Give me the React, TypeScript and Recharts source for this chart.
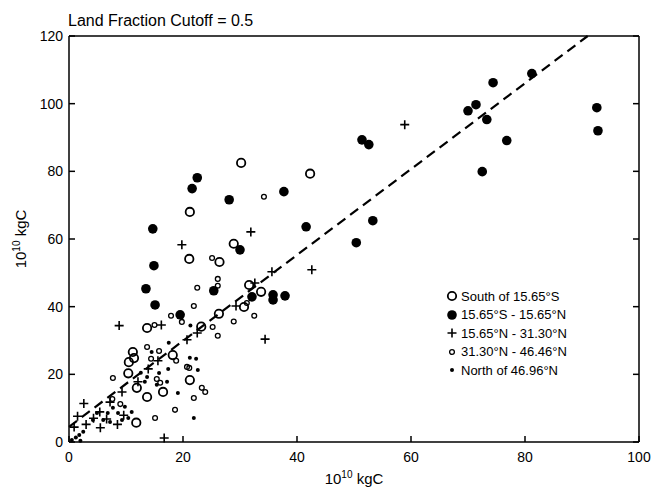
import { ScatterChart, Scatter, XAxis, YAxis, ReferenceLine, Legend } from 'recharts';

// [x, y] pairs, both in 10^10 kgC
const southOf1565S = [
  [30.2, 82.5], [42.3, 79.3], [21.2, 68.0], [28.9, 58.6], [21.1, 54.1], [26.4, 53.2],
  [31.6, 46.4], [33.7, 44.4], [30.7, 39.9], [26.3, 37.9], [13.7, 33.7], [23.2, 34.1],
  [18.2, 25.7], [21.2, 18.3], [11.2, 26.6], [11.4, 24.8], [10.5, 23.6], [10.4, 20.3],
  [11.9, 16.0], [13.7, 13.3], [16.5, 14.8], [11.8, 5.7],
];

const s1565To1565N = [
  [81.2, 108.9], [74.4, 106.2], [71.4, 99.7], [70.0, 97.9], [73.3, 95.3], [76.8, 89.1],
  [72.5, 79.9], [92.6, 98.8], [92.8, 92.0], [51.4, 89.3], [52.6, 87.9], [53.3, 65.4],
  [50.4, 58.9], [41.6, 63.6], [37.7, 74.0], [28.1, 71.6], [22.5, 78.1], [21.6, 74.9],
  [14.7, 63.0], [14.9, 52.1], [30.0, 56.8], [13.5, 45.3], [15.1, 40.5], [25.4, 44.7],
  [32.1, 42.9], [35.8, 43.5], [35.8, 42.0], [37.9, 43.2], [19.5, 37.6],
];

const n1565To3130 = [
  [58.9, 93.8], [31.9, 62.1], [19.8, 58.3], [35.6, 50.3], [42.6, 50.9], [34.4, 30.4],
  [8.8, 34.4], [16.2, 34.6], [29.3, 40.2], [32.6, 47.0], [20.7, 30.2], [22.5, 32.2],
  [15.6, 24.0], [13.9, 21.6], [9.3, 14.8], [2.6, 11.4], [16.7, 1.2], [1.5, 7.6],
  [3.0, 5.2], [4.3, 7.0], [5.5, 4.2], [6.6, 6.8], [8.5, 5.2], [9.6, 7.9], [0.9, 4.4],
  [5.4, 8.9], [7.2, 11.8], [12.1, 17.8],
];

const n3130To4646 = [
  [34.2, 72.5], [25.1, 54.4], [26.1, 48.2], [26.1, 46.2], [22.5, 45.6], [21.9, 40.2],
  [17.9, 37.3], [19.8, 35.5], [15.0, 34.6], [28.9, 35.6], [32.5, 37.3], [25.2, 34.0],
  [26.1, 31.4], [31.2, 41.1], [13.7, 28.1], [15.8, 26.9], [14.4, 24.6], [18.8, 24.0],
  [21.1, 21.9], [15.4, 18.6], [16.0, 17.5], [7.7, 18.9], [18.6, 9.5], [15.1, 7.1],
  [21.9, 13.0], [23.3, 16.0], [23.9, 14.8], [20.7, 22.2], [7.6, 12.7], [9.0, 11.2],
];

const northOf4696 = [
  [21.3, 34.4], [17.5, 29.3], [19.1, 14.5], [21.9, 7.1], [17.4, 21.6], [22.6, 21.3],
  [22.3, 24.6], [14.5, 26.6], [15.8, 20.4], [17.2, 17.8], [15.4, 16.9], [13.7, 19.2],
  [12.6, 20.5], [0.5, 0.6], [1.8, 2.1], [1.2, 1.3], [2.5, 3.0], [4.2, 6.5], [6.0, 6.5],
  [7.2, 5.9], [9.3, 6.5], [10.4, 7.1], [11.0, 8.9], [6.8, 8.6], [4.9, 8.6], [7.7, 10.1],
  [9.8, 10.4], [8.6, 8.6], [21.2, 24.9], [13.3, 17.8], [2.0, 0.4],
];

const xTicks = [0, 20, 40, 60, 80, 100];
const yTicks = [0, 20, 40, 60, 80, 100, 120];
const fitLine = [[0, 4.5], [91, 120]];

const FONT = '"Liberation Sans", Arial, Helvetica, sans-serif';

const toPoints = (pairs: number[][]) => pairs.map(([x, y]) => ({ x, y }));

const OpenBig = ({ cx, cy }: any) => (
  <circle cx={cx} cy={cy} r={4.2} fill="none" stroke="#000" strokeWidth={1.8} />
);
const Filled = ({ cx, cy }: any) => <circle cx={cx} cy={cy} r={4.8} fill="#000" />;
const Plus = ({ cx, cy }: any) => (
  <path d={`M${cx - 4.5},${cy}h9M${cx},${cy - 4.5}v9`} stroke="#000" strokeWidth={1.6} fill="none" />
);
const OpenSmall = ({ cx, cy }: any) => (
  <circle cx={cx} cy={cy} r={2.4} fill="none" stroke="#000" strokeWidth={1.3} />
);
const Dot = ({ cx, cy }: any) => <circle cx={cx} cy={cy} r={2} fill="#000" />;

const series = [
  { name: 'South of 15.65°S', data: southOf1565S, Shape: OpenBig },
  { name: '15.65°S - 15.65°N', data: s1565To1565N, Shape: Filled },
  { name: '15.65°N - 31.30°N', data: n1565To3130, Shape: Plus },
  { name: '31.30°N - 46.46°N', data: n3130To4646, Shape: OpenSmall },
  { name: 'North of 46.96°N', data: northOf4696, Shape: Dot },
];

const BottomTick = ({ x, y, payload }: any) => (
  <g>
    <line x1={x} y1={y} x2={x} y2={y - 6} stroke="#000" strokeWidth={1.5} />
    <text x={x} y={y + 20} textAnchor="middle" fontSize={14} fontFamily={FONT} fill="#000">
      {payload.value}
    </text>
  </g>
);
const TopTick = ({ x, y }: any) => (
  <line x1={x} y1={y} x2={x} y2={y + 6} stroke="#000" strokeWidth={1.5} />
);
const LeftTick = ({ x, y, payload }: any) => (
  <g>
    <line x1={x} y1={y} x2={x + 6} y2={y} stroke="#000" strokeWidth={1.5} />
    <text x={x - 6} y={y + 5} textAnchor="end" fontSize={14} fontFamily={FONT} fill="#000">
      {payload.value}
    </text>
  </g>
);
const RightTick = ({ x, y }: any) => (
  <line x1={x} y1={y} x2={x - 6} y2={y} stroke="#000" strokeWidth={1.5} />
);

const UnitText = (props: any) => (
  <text {...props} fontFamily={FONT} fontSize={15} fill="#000">
    <tspan>10</tspan>
    <tspan dy={-6} fontSize={10}>10</tspan>
    <tspan dy={6}> kgC</tspan>
  </text>
);

const LegendBox = () => (
  <div style={{ fontFamily: FONT, fontSize: 13, color: '#000' }}>
    {series.map(({ name, Shape }) => (
      <div key={name} style={{ display: 'flex', alignItems: 'center', height: 18.5 }}>
        <svg width={12} height={12} style={{ marginRight: 3 }}>
          <Shape cx={6} cy={6} />
        </svg>
        <span>{name}</span>
      </div>
    ))}
  </div>
);

export default function App() {
  const axisLine = { stroke: '#000', strokeWidth: 1.5 };
  return (
    <div style={{ position: 'absolute', left: 0, top: 0, background: '#fff' }}>
      <ScatterChart width={656} height={490} margin={{ top: 35, right: 16, bottom: 18, left: 29 }}>
        <XAxis
          type="number"
          dataKey="x"
          domain={[0, 100]}
          ticks={xTicks}
          interval={0}
          axisLine={axisLine}
          tickLine={false}
          tickSize={0}
          tickMargin={0}
          tick={<BottomTick />}
          height={30}
          label={{
            content: ({ viewBox }: any) => (
              <UnitText x={viewBox.x + viewBox.width / 2} y={viewBox.y + 42} textAnchor="middle" />
            ),
          }}
        />
        <XAxis
          xAxisId="top"
          orientation="top"
          type="number"
          domain={[0, 100]}
          allowDataOverflow
          ticks={xTicks}
          interval={0}
          axisLine={axisLine}
          tickLine={false}
          tickSize={0}
          tickMargin={0}
          tick={<TopTick />}
          height={1}
          label={{
            content: ({ viewBox }: any) => (
              <text x={viewBox.x - 1} y={viewBox.y - 9} fontFamily={FONT} fontSize={16} fill="#000">
                Land Fraction Cutoff = 0.5
              </text>
            ),
          }}
        />
        <YAxis
          type="number"
          dataKey="y"
          domain={[0, 120]}
          ticks={yTicks}
          interval={0}
          axisLine={axisLine}
          tickLine={false}
          tickSize={0}
          tickMargin={0}
          tick={<LeftTick />}
          width={40}
          label={{
            content: ({ viewBox }: any) => {
              const cy = viewBox.y + viewBox.height / 2;
              return <UnitText x={26} y={cy} textAnchor="middle" transform={`rotate(-90 26 ${cy})`} />;
            },
          }}
        />
        <YAxis
          yAxisId="right"
          orientation="right"
          type="number"
          domain={[0, 120]}
          allowDataOverflow
          ticks={yTicks}
          interval={0}
          axisLine={axisLine}
          tickLine={false}
          tickSize={0}
          tickMargin={0}
          tick={<RightTick />}
          width={1}
        />
        <ReferenceLine
          segment={fitLine.map(([x, y]) => ({ x, y }))}
          stroke="#000"
          strokeWidth={2.2}
          strokeDasharray="10 6"
        />
        {series.map(({ name, data, Shape }) => (
          <Scatter
            key={name}
            name={name}
            data={toPoints(data)}
            shape={(p: any) => <Shape cx={p.cx} cy={p.cy} />}
            isAnimationActive={false}
          />
        ))}
        <Legend
          layout="vertical"
          align="center"
          verticalAlign="middle"
          content={() => <LegendBox />}
          wrapperStyle={{ left: 446, top: 287, width: 170 }}
        />
      </ScatterChart>
    </div>
  );
}
